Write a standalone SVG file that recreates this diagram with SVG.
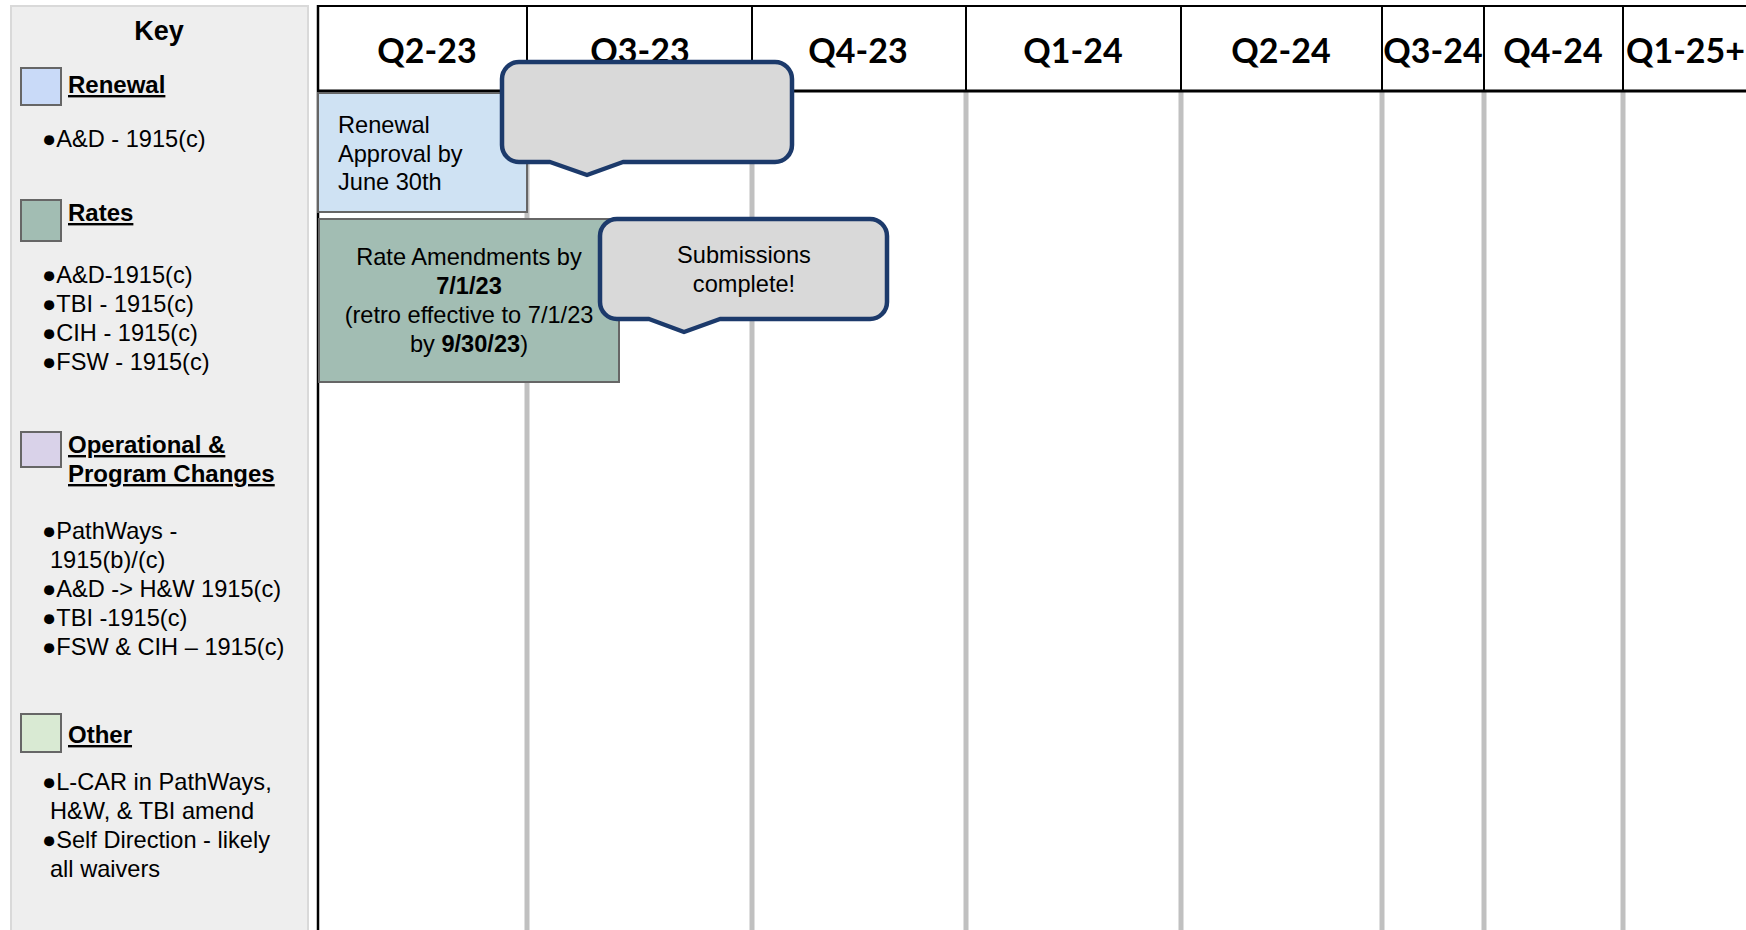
<svg xmlns="http://www.w3.org/2000/svg" width="1746" height="930" viewBox="0 0 1746 930">
<style>
.t{font-family:"Liberation Sans",Arial,sans-serif;font-size:23.6px;fill:#000}
.h{font-family:"Liberation Sans",Arial,sans-serif;font-size:24px;font-weight:bold;text-decoration:underline;fill:#000}
.q{font-family:Lato,"Liberation Sans",sans-serif;font-size:34px;font-weight:bold;fill:#000;text-anchor:middle}
.sw{stroke:#666;stroke-width:2}
.hl{stroke:#000;stroke-width:2}
.gl{stroke:#c0c0c0;stroke-width:5}
.co{fill:#d9d9d9;stroke:#1c3a6b;stroke-width:4.5;stroke-linejoin:round}
.b{font-weight:bold}
</style>
<rect width="1746" height="930" fill="#ffffff"/>
<g id="key">
<rect x="11" y="6" width="297" height="930" fill="#eeeeee" stroke="#d9d9d9" stroke-width="2"/>
<text x="159" y="40" font-family="Liberation Sans,Arial,sans-serif" font-size="27" font-weight="bold" text-anchor="middle">Key</text>
<rect class="sw" x="21" y="68" width="40" height="37" fill="#c9daf8"/>
<text class="h" x="68" y="93">Renewal</text>
<text class="t" x="42" y="147">●A&amp;D - 1915(c)</text>
<rect class="sw" x="21" y="200" width="40" height="41" fill="#a2bdb3"/>
<text class="h" x="68" y="221">Rates</text>
<text class="t" x="42" y="283">●A&amp;D-1915(c)</text>
<text class="t" x="42" y="312">●TBI - 1915(c)</text>
<text class="t" x="42" y="341">●CIH - 1915(c)</text>
<text class="t" x="42" y="370">●FSW - 1915(c)</text>
<rect class="sw" x="21" y="432" width="40" height="35" fill="#d9d2e9"/>
<text class="h" x="68" y="453">Operational &amp;</text>
<text class="h" x="68" y="482">Program Changes</text>
<text class="t" x="42" y="539">●PathWays -</text>
<text class="t" x="50" y="568">1915(b)/(c)</text>
<text class="t" x="42" y="597">●A&amp;D -&gt; H&amp;W 1915(c)</text>
<text class="t" x="42" y="626">●TBI -1915(c)</text>
<text class="t" x="42" y="655">●FSW &amp; CIH – 1915(c)</text>
<rect class="sw" x="21" y="714" width="40" height="38" fill="#d9ead3"/>
<text class="h" x="68" y="743">Other</text>
<text class="t" x="42" y="790">●L-CAR in PathWays,</text>
<text class="t" x="50" y="819">H&amp;W, &amp; TBI amend</text>
<text class="t" x="42" y="848">●Self Direction - likely</text>
<text class="t" x="50" y="877">all waivers</text>
</g>
<g id="grid">
<line class="gl" x1="527" y1="91" x2="527" y2="930"/>
<line class="gl" x1="752" y1="91" x2="752" y2="930"/>
<line class="gl" x1="966" y1="91" x2="966" y2="930"/>
<line class="gl" x1="1181" y1="91" x2="1181" y2="930"/>
<line class="gl" x1="1382" y1="91" x2="1382" y2="930"/>
<line class="gl" x1="1484" y1="91" x2="1484" y2="930"/>
<line class="gl" x1="1623" y1="91" x2="1623" y2="930"/>
<line class="hl" x1="318" y1="6" x2="1746" y2="6"/>
<line x1="318" y1="91" x2="1746" y2="91" stroke="#000" stroke-width="3"/>
<line x1="318" y1="5" x2="318" y2="930" stroke="#000" stroke-width="2.5"/>
<line class="hl" x1="527" y1="6" x2="527" y2="91"/>
<line class="hl" x1="752" y1="6" x2="752" y2="91"/>
<line class="hl" x1="966" y1="6" x2="966" y2="91"/>
<line class="hl" x1="1181" y1="6" x2="1181" y2="91"/>
<line class="hl" x1="1382" y1="6" x2="1382" y2="91"/>
<line class="hl" x1="1484" y1="6" x2="1484" y2="91"/>
<line class="hl" x1="1623" y1="6" x2="1623" y2="91"/>
</g>
<g id="headers">
<text class="q" x="427" y="63">Q2-23</text>
<text class="q" x="640" y="63">Q3-23</text>
<text class="q" x="858" y="63">Q4-23</text>
<text class="q" x="1073" y="63">Q1-24</text>
<text class="q" x="1281" y="63">Q2-24</text>
<text class="q" x="1433" y="63">Q3-24</text>
<text class="q" x="1553" y="63">Q4-24</text>
<text class="q" x="1626" y="63" style="text-anchor:start">Q1-25+</text>
</g>
<g id="renewal-bar">
<rect x="318" y="93" width="209" height="119" fill="#cfe2f3" stroke="#666" stroke-width="2"/>
<text class="t" x="338" y="133">Renewal</text>
<text class="t" x="338" y="162">Approval by</text>
<text class="t" x="338" y="190">June 30th</text>
</g>
<g id="rates-bar">
<rect x="319" y="219" width="300" height="163" fill="#a2bdb3" stroke="#666" stroke-width="2"/>
<text class="t" x="469" y="265" text-anchor="middle">Rate Amendments by</text>
<text class="t b" x="469" y="294" text-anchor="middle">7/1/23</text>
<text class="t" x="469" y="323" text-anchor="middle">(retro effective to 7/1/23</text>
<text class="t" x="469" y="352" text-anchor="middle">by <tspan class="b">9/30/23</tspan>)</text>
</g>
<g id="callout-empty">
<path class="co" d="M519,62 H775 A17,17 0 0 1 792,79 V145 A17,17 0 0 1 775,162 H623 L587,175 L550,162 H519 A17,17 0 0 1 502,145 V79 A17,17 0 0 1 519,62 Z"/>
</g>
<g id="callout-submissions">
<path class="co" d="M617,219 H870 A17,17 0 0 1 887,236 V302 A17,17 0 0 1 870,319 H720 L684,332 L649,319 H617 A17,17 0 0 1 600,302 V236 A17,17 0 0 1 617,219 Z"/>
<text class="t" x="744" y="263" text-anchor="middle">Submissions</text>
<text class="t" x="744" y="292" text-anchor="middle">complete!</text>
</g>
<g id="connectors"></g>
</svg>
